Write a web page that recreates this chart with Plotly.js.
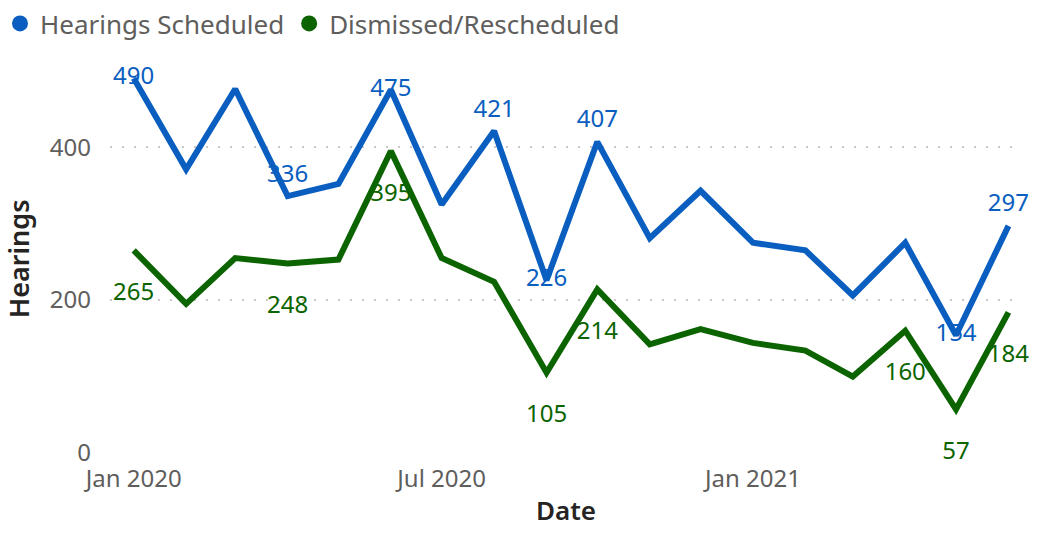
<!DOCTYPE html>
<html>
<head>
<meta charset="utf-8">
<script src="https://cdn.plot.ly/plotly-3.0.1.min.js"></script>
<style>html,body{margin:0;padding:0;background:#fff;}#chart{width:1064px;height:537px;}</style>
</head>
<body>
<div id="chart"></div>
<script>
// ---- data ----
const months = ['2020-01-01','2020-02-01','2020-03-01','2020-04-01','2020-05-01','2020-06-01',
  '2020-07-01','2020-08-01','2020-09-01','2020-10-01','2020-11-01','2020-12-01',
  '2021-01-01','2021-02-01','2021-03-01','2021-04-01','2021-05-01','2021-06-01'];
const hearingsScheduled = [490, 371, 476, 336, 352, 475, 325, 421, 226, 407, 281, 343, 275, 265, 206, 275, 154, 297];
const dismissedRescheduled = [265, 195, 255, 248, 253, 395, 255, 224, 105, 214, 142, 162, 144, 134, 100, 160, 57, 184];
const labeledScheduled = [0, 3, 5, 7, 8, 9, 16, 17];
const labeledDismissed = [0, 3, 5, 8, 9, 15, 16, 17];
const seriesNames = ['Hearings Scheduled', 'Dismissed/Rescheduled'];
const yTicks = [0, 200, 400];

const BLUE = '#0A5EC0';
const GREEN = '#0B6400';
const FONT = 'Segoe UI, Noto Sans, sans-serif';

const blueText = hearingsScheduled.map((v, i) => labeledScheduled.includes(i) ? String(v) : '');
const greenText = dismissedRescheduled.map((v, i) => labeledDismissed.includes(i) ? String(v) : '');
const overlapBlue = [0, 5, 8, 16];
const bluePos = hearingsScheduled.map((v, i) => overlapBlue.includes(i) ? 'middle center' : 'top center');

const traces = [
  {
    x: months, y: hearingsScheduled, type: 'scatter', mode: 'lines+markers+text',
    line: {color: BLUE, width: 6},
    marker: {size: 12, color: 'rgba(0,0,0,0)'},
    text: blueText, textposition: bluePos,
    textfont: {family: FONT, size: 24, color: BLUE},
    cliponaxis: false, showlegend: false, hoverinfo: 'x+y'
  },
  {
    x: months, y: dismissedRescheduled, type: 'scatter', mode: 'lines+markers+text',
    line: {color: GREEN, width: 6},
    marker: {size: 49, color: 'rgba(0,0,0,0)'},
    text: greenText, textposition: 'bottom center',
    textfont: {family: FONT, size: 24, color: GREEN},
    cliponaxis: false, showlegend: false, hoverinfo: 'x+y'
  },
  {x: [null], y: [null], type: 'scatter', mode: 'markers', name: seriesNames[0],
   marker: {color: BLUE, size: 20, symbol: 'circle'}},
  {x: [null], y: [null], type: 'scatter', mode: 'markers', name: seriesNames[1],
   marker: {color: GREEN, size: 20, symbol: 'circle'}}
];

const layout = {
  width: 1064, height: 537,
  margin: {l: 110, r: 42, t: 60, b: 84},
  paper_bgcolor: '#fff', plot_bgcolor: '#fff',
  font: {family: FONT, color: '#605E5C'},
  showlegend: true,
  legend: {
    orientation: 'h', xref: 'container', yref: 'container',
    x: -0.011, y: 1, xanchor: 'left', yanchor: 'top',
    font: {family: FONT, size: 26, color: '#605E5C'},
    itemsizing: 'trace', tracegroupgap: 0, itemwidth: 30
  },
  xaxis: {
    type: 'date',
    range: ['2019-12-18', '2021-06-09'],
    tick0: '2020-01-01', dtick: 'M6', tickformat: '%b %Y',
    showgrid: false, zeroline: false, showline: false, ticks: '',
    tickfont: {family: FONT, size: 24, color: '#605E5C'},
    ticklabelstandoff: 9,
    title: {text: 'Date', font: {family: FONT, size: 26, color: '#252423', weight: 600}, standoff: 8}
  },
  yaxis: {
    range: [0, 514],
    tickvals: yTicks, ticktext: yTicks.map(String),
    showgrid: true, gridcolor: '#C8C8C8', gridwidth: 2, griddash: '2px,10px',
    zeroline: false, showline: false, ticks: '',
    tickfont: {family: FONT, size: 24, color: '#605E5C'},
    ticklabelstandoff: 18
  },
  annotations: [{
    text: 'Hearings', xref: 'paper', yref: 'paper', x: -0.1, y: 0.495,
    xanchor: 'center', yanchor: 'middle', textangle: -90, showarrow: false,
    font: {family: FONT, size: 27, color: '#252423', weight: 600}
  }]
};

Plotly.newPlot('chart', traces, layout, {displayModeBar: false, responsive: false});
</script>
</body>
</html>
